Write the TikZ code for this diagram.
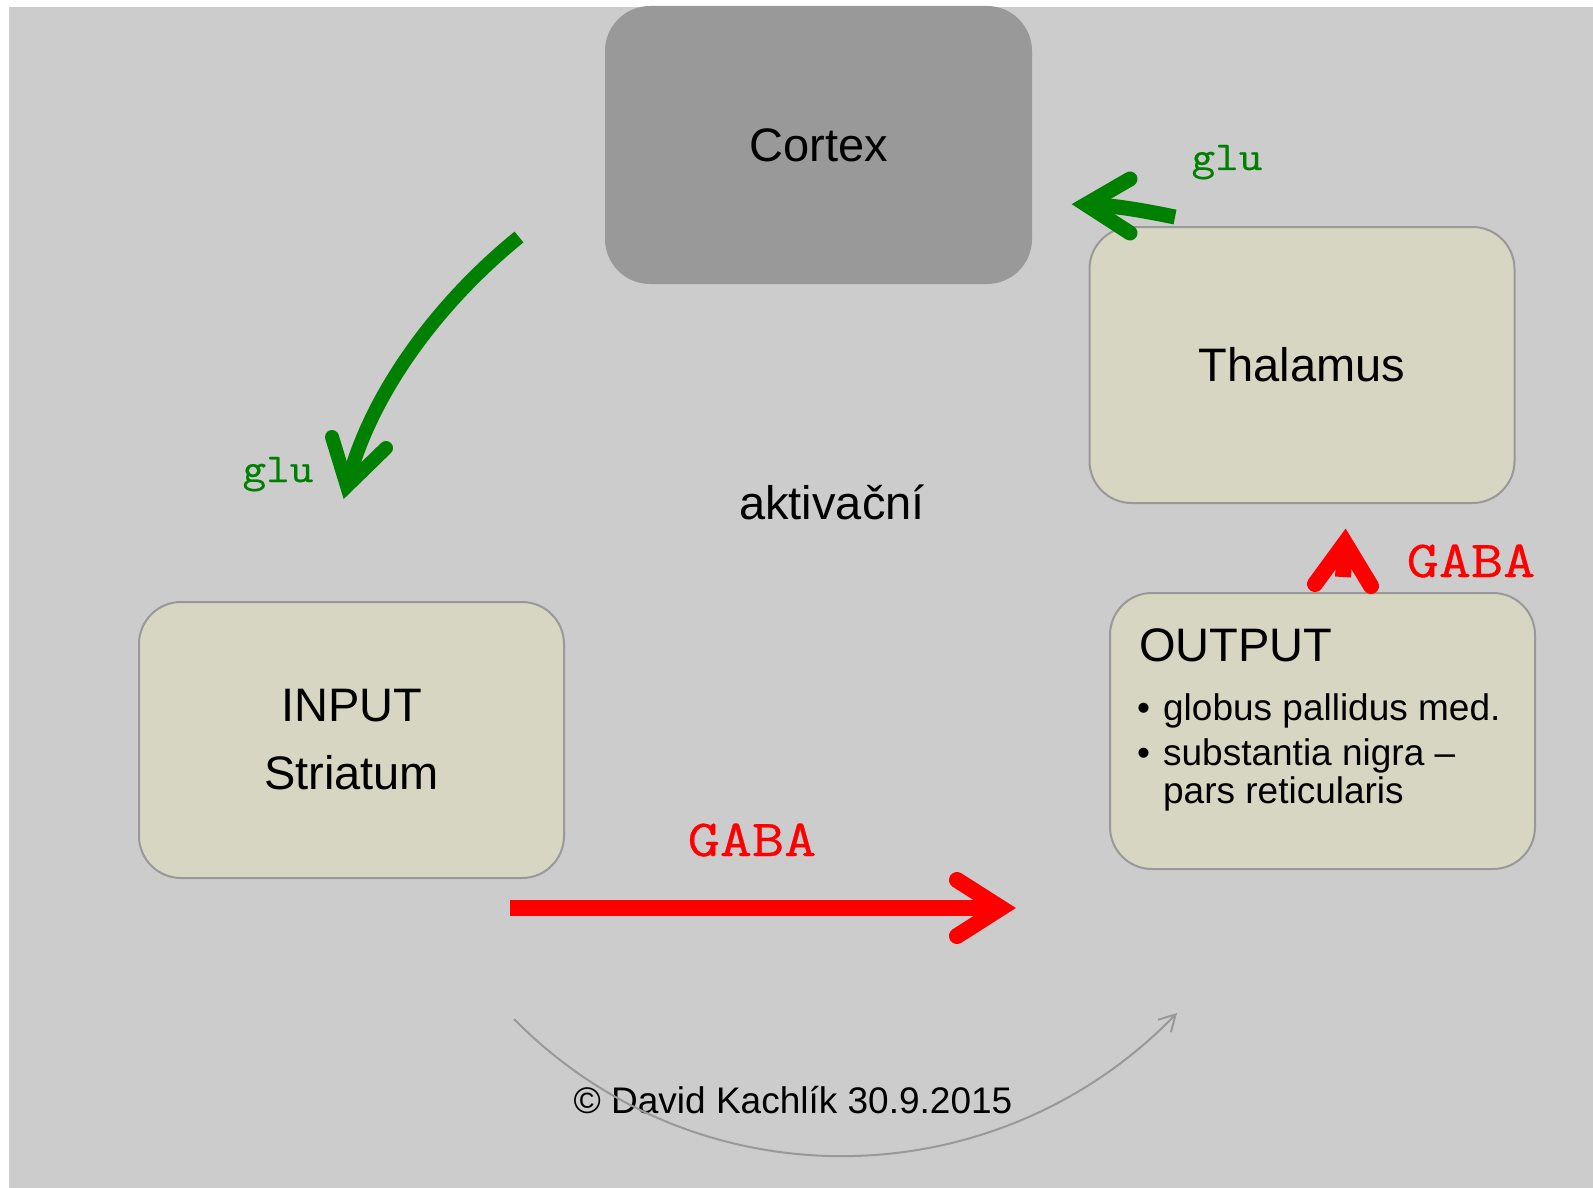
\documentclass[tikz,border=0pt]{standalone}
\usepackage{fontspec}
\setmainfont{Liberation Sans}
\newfontfamily\glufont{Latin Modern Mono}[FakeStretch=1.12, FakeBold=0.5]
\newfontfamily\gabafont{Latin Modern Mono}[FakeStretch=1.2, FakeBold=0.6]
\usetikzlibrary{arrows.meta}
\definecolor{bg}{HTML}{CCCCCC}
\definecolor{ctxfill}{HTML}{999999}
\definecolor{boxfill}{HTML}{D6D6C2}
\definecolor{boxline}{HTML}{999999}
\definecolor{glugreen}{HTML}{008000}
\definecolor{gabared}{HTML}{FF0000}
\begin{document}
\begin{tikzpicture}[x=1pt,y=-1pt,
  roundbox/.style={draw=boxline, line width=2pt, fill=boxfill, rounded corners=42pt, inner sep=0pt,
    minimum width=425pt, minimum height=276pt, align=center, font=\fontsize{47}{68}\selectfont},
  ctxbox/.style={fill=ctxfill, rounded corners=45pt, inner sep=0pt,
    minimum width=427pt, minimum height=278pt, font=\fontsize{47}{56}\selectfont},
  shaft/.style={line width=#1, line cap=butt},
  arrowhd/.style={line width=#1, line cap=round, line join=miter, miter limit=10},
  glulab/.style={text=glugreen, font=\glufont\fontsize{41}{46}\selectfont, anchor=base, inner sep=0pt},
  gabalab/.style={text=gabared, font=\gabafont\fontsize{52}{58}\selectfont, anchor=base, inner sep=0pt},
  plain/.style={font=\fontsize{47}{56}\selectfont, anchor=base, inner sep=0pt}
]
\useasboundingbox (0,0) rectangle (1593,1188);
\fill[bg] (9,7) rectangle (1593,1188);

% boxes
\node[ctxbox] (cortex) at (818.5,145) {Cortex};
\node[roundbox] (thalamus) at (1302,365) {Thalamus};
\node[roundbox] (input) at (351.5,740) {INPUT\\Striatum};
\node[roundbox] (output) at (1322.5,731) {};
\node[anchor=base west, inner sep=0pt, font=\fontsize{47}{56}\selectfont] (outtitle) at (1139,661) {OUTPUT};
\node[anchor=base west, inner sep=0pt, font=\fontsize{37}{38}\selectfont] (outlist) at (1137,720)
 {\begin{tabular}[t]{@{}l@{\hspace{13pt}}l@{}}
 \textbullet & globus pallidus med.\\[7pt]
 \textbullet & substantia nigra –\\
 & pars reticularis
 \end{tabular}};

\node[plain] (aktiv) at (832,519) {aktivační};
\node[plain, font=\fontsize{37}{44}\selectfont] (copy) at (793,1113) {© David Kachlík 30.9.2015};

% labels
\node[glulab] (glu1) at (278,482) {glu};
\node[glulab] (glu2) at (1227,170) {glu};
\node[gabalab] (gaba1) at (752,856) {GABA};
\node[gabalab] (gaba2) at (1471,577) {GABA};

% green arrow cortex -> input
\coordinate (g1s) at (519,237);
\coordinate (g1v) at (347,486);
\coordinate (g1a) at (332,437);
\coordinate (g1b) at (386,448);
\draw[glugreen, shaft=14pt] (g1s) .. controls (434,306) and (368,399) .. (g1v);
\draw[glugreen, arrowhd=14pt] (g1a) -- (g1v) -- (g1b);

% green arrow thalamus -> cortex
\coordinate (g2s) at (1175,217);
\coordinate (g2v) at (1086,204.5);
\coordinate (g2a) at (1130,179);
\coordinate (g2b) at (1130,233);
\draw[glugreen, shaft=15pt] (g2s) .. controls (1145,211) and (1116,205.3) .. (g2v);
\draw[glugreen, arrowhd=15pt] (g2a) -- (g2v) -- (g2b);

% red arrow input -> output
\coordinate (r1s) at (510,908);
\coordinate (r1v) at (1001,908);
\coordinate (r1a) at (957,880);
\coordinate (r1b) at (957,936);
\draw[gabared, shaft=16pt] (r1s) -- (r1v);
\draw[gabared, arrowhd=16pt] (r1a) -- (r1v) -- (r1b);

% red arrow output -> thalamus
\coordinate (r2s) at (1343,577);
\coordinate (r2v) at (1345,543);
\coordinate (r2a) at (1315,584);
\coordinate (r2b) at (1371,586);
\draw[gabared, shaft=16pt] (r2s) -- (r2v);
\draw[gabared, arrowhd=16pt] (r2a) -- (r2v) -- (r2b);

% gray arc
\coordinate (arcS) at (514,1019);
\coordinate (arcE) at (1177,1013);
\draw[boxline, line width=2pt, -{Straight Barb[length=16pt,width=18pt]}]
  (arcS) .. controls (697,1205) and (996,1200) .. (arcE);
\end{tikzpicture}
\end{document}
